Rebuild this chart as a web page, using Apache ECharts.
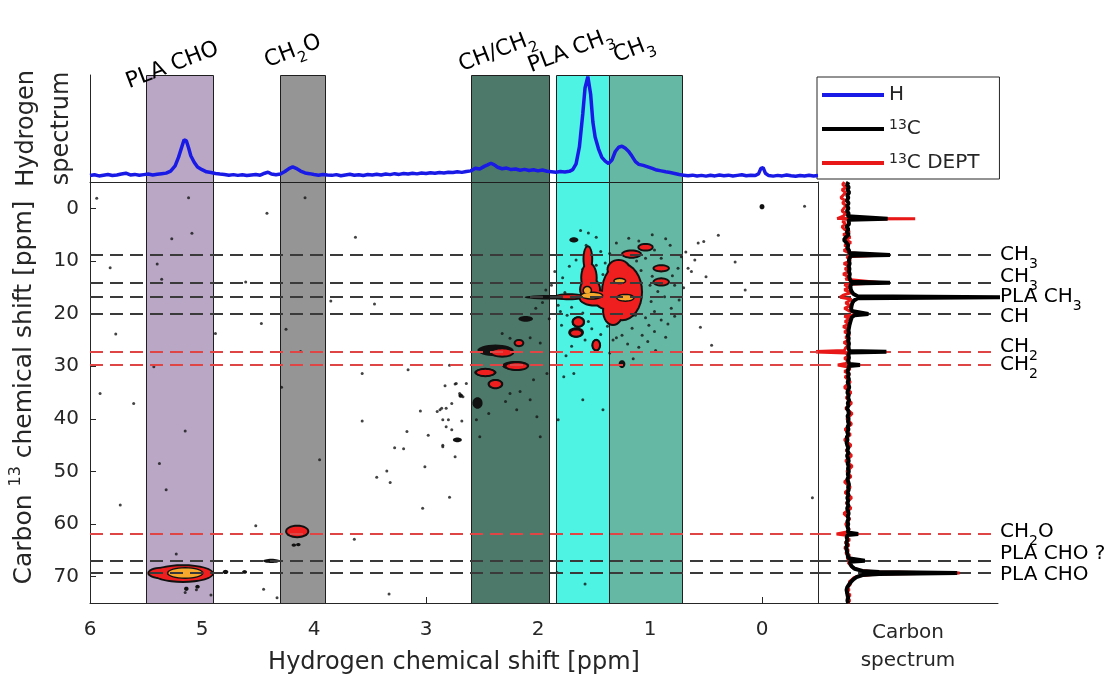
<!DOCTYPE html>
<html>
<head>
<meta charset="utf-8">
<script src="https://cdn.jsdelivr.net/npm/echarts@6/dist/echarts.min.js"></script>
<style>
html,body{margin:0;padding:0;background:#fff}
#chart{width:1109px;height:682px}
</style>
</head>
<body>
<div id="chart"></div>
<script>
// ---------- data ----------
// tick values
const hTicks = [0, 1, 2, 3, 4, 5, 6];
const cTicks = [0, 10, 20, 30, 40, 50, 60, 70];

// 1H windows used for the assignment (ppm); "_n" marks a subscript
const bandLabels = ['PLA CHO', 'CH_2O', 'CH/CH_2', 'PLA CH_3', 'CH_3'];
const bandStart = [5.50, 4.30, 2.60, 1.84, 1.37];
const bandEnd = [4.90, 3.90, 1.90, 1.37, 0.72];

// 13C reference shifts (ppm) and assignments
const refShifts = [8.87, 14.13, 16.91, 20.08, 27.25, 29.78, 61.89, 66.96, 69.30];
const refLabels = ['CH_3', 'CH_3', 'PLA CH_3', 'CH', 'CH_2', 'CH_2', 'CH_2O', 'PLA CHO ?', 'PLA CHO'];

// 1H spectrum: [ppm, intensity]
const hydrogenSpectrum = [
  [6.00,.060],[5.96,.068],[5.92,.057],[5.88,.064],[5.84,.070],[5.80,.061],[5.76,.066],[5.72,.074],[5.68,.082],[5.64,.066],
  [5.60,.071],[5.56,.063],[5.52,.069],[5.48,.074],[5.44,.066],[5.40,.072],[5.36,.078],[5.32,.083],[5.28,.102],[5.24,.150],
  [5.21,.230],[5.18,.330],[5.16,.395],[5.14,.385],[5.12,.320],[5.10,.245],[5.07,.185],[5.04,.140],[5.00,.115],[4.96,.095],
  [4.92,.088],[4.88,.080],[4.84,.074],[4.80,.071],[4.76,.064],[4.72,.069],[4.68,.062],[4.64,.067],[4.60,.060],[4.56,.066],
  [4.52,.071],[4.48,.064],[4.44,.082],[4.41,.092],[4.38,.074],[4.34,.068],[4.30,.075],[4.26,.098],[4.22,.128],[4.19,.142],
  [4.16,.128],[4.12,.102],[4.08,.085],[4.04,.078],[4.00,.070],[3.96,.064],[3.92,.071],[3.88,.066],[3.84,.062],[3.80,.069],
  [3.76,.058],[3.72,.066],[3.68,.072],[3.64,.063],[3.60,.068],[3.56,.061],[3.52,.070],[3.48,.065],[3.44,.072],[3.40,.066],
  [3.36,.074],[3.32,.069],[3.28,.078],[3.24,.071],[3.20,.080],[3.16,.074],[3.12,.082],[3.08,.076],[3.04,.084],[3.00,.079],
  [2.96,.087],[2.92,.081],[2.88,.089],[2.84,.085],[2.80,.092],[2.76,.088],[2.72,.095],[2.68,.090],[2.64,.098],[2.60,.104],
  [2.56,.128],[2.52,.122],[2.48,.146],[2.45,.160],[2.42,.175],[2.39,.160],[2.36,.138],[2.32,.124],[2.28,.130],[2.24,.116],
  [2.20,.122],[2.16,.110],[2.12,.118],[2.08,.108],[2.04,.115],[2.00,.104],[1.96,.112],[1.92,.100],[1.88,.096],[1.84,.092],
  [1.80,.098],[1.76,.094],[1.72,.100],[1.69,.115],[1.66,.170],[1.63,.330],[1.60,.640],[1.58,.880],[1.555,.985],[1.53,.820],
  [1.51,.560],[1.49,.420],[1.46,.310],[1.43,.230],[1.40,.195],[1.37,.172],[1.34,.205],[1.31,.285],[1.28,.325],[1.25,.335],
  [1.22,.315],[1.19,.285],[1.16,.240],[1.13,.190],[1.10,.165],[1.06,.155],[1.02,.142],[0.98,.128],[0.94,.112],[0.90,.104],
  [0.86,.095],[0.82,.088],[0.78,.080],[0.74,.070],[0.70,.064],[0.66,.058],[0.62,.064],[0.58,.056],[0.54,.062],[0.50,.055],
  [0.46,.063],[0.42,.057],[0.38,.066],[0.34,.059],[0.30,.064],[0.26,.056],[0.22,.062],[0.18,.068],[0.14,.058],[0.10,.064],
  [0.06,.060],[0.03,.078],[0.01,.128],[-0.01,.135],[-0.03,.082],[-0.06,.060],[-0.10,.055],[-0.14,.062],[-0.18,.057],[-0.22,.065],
  [-0.26,.058],[-0.30,.054],[-0.34,.061],[-0.38,.056],[-0.42,.063],[-0.46,.057],[-0.50,.060]
];

// 13C spectrum: [ppm, intensity]
const carbonSpectrum = [
  [-5.0,0.004],[-4.5,-0.008],[-4.0,0.006],[-3.5,-0.004],[-3.0,0.010],[-2.5,-0.006],[-2.0,0.003],[-1.5,-0.010],[-1.0,0.005],[-0.5,-0.007],
  [0.0,0.004],[0.5,-0.009],[1.0,0.006],[1.5,-0.004],[1.85,0.008],[2.0,0.330],[2.15,0.006],[2.5,-0.008],[3.0,0.008],[3.5,-0.012],
  [4.0,0.003],[4.5,-0.010],[5.0,0.006],[5.5,-0.018],[6.0,-0.034],[6.5,-0.014],[7.0,0.002],[7.5,-0.006],[8.0,0.008],[8.5,0.012],
  [8.75,0.024],[8.87,0.350],[9.0,0.026],[9.5,0.012],[10.0,0.008],[10.5,0.014],[11.0,0.006],[11.5,0.012],[12.0,0.008],[12.5,0.015],
  [13.0,0.010],[13.5,0.016],[13.95,0.028],[14.13,0.350],[14.3,0.030],[14.8,0.020],[15.3,0.022],[15.8,0.030],[16.3,0.046],[16.7,0.080],
  [16.91,1.300],[17.1,0.080],[17.5,0.050],[18.0,0.036],[18.5,0.030],[19.0,0.026],[19.5,0.030],[19.85,0.046],[20.08,0.170],[20.3,0.056],
  [20.7,0.032],[21.2,0.024],[21.7,0.018],[22.2,0.012],[22.7,0.008],[23.2,0.004],[23.7,0.008],[24.2,-0.002],[24.7,0.006],[25.2,0.002],
  [25.7,0.008],[26.2,0.004],[26.7,0.006],[27.1,0.012],[27.25,0.320],[27.4,0.010],[27.9,0.004],[28.4,0.008],[28.9,0.002],[29.6,0.010],
  [29.78,0.100],[29.95,0.008],[30.5,0.004],[31.0,-0.004],[31.5,0.006],[32.0,0.000],[32.5,0.008],[33.0,-0.003],[33.5,0.005],[34.0,0.010],
  [34.5,0.002],[35.0,-0.005],[35.5,0.006],[36.0,0.001],[36.5,0.009],[37.0,-0.002],[37.5,0.004],[38.0,-0.008],[38.5,0.003],[39.0,0.007],
  [39.5,-0.004],[40.0,0.005],[40.5,0.000],[41.0,0.008],[41.5,-0.003],[42.0,0.004],[42.5,-0.006],[43.0,0.002],[43.5,-0.010],[44.0,-0.004],
  [44.5,-0.012],[45.0,-0.006],[45.5,0.002],[46.0,-0.005],[46.5,0.004],[47.0,-0.008],[47.5,0.000],[48.0,0.006],[48.5,-0.003],[49.0,0.005],
  [49.5,0.000],[50.0,0.007],[50.5,-0.002],[51.0,0.004],[51.5,-0.005],[52.0,0.002],[52.5,0.008],[53.0,0.001],[53.5,0.006],[54.0,-0.003],
  [54.5,0.004],[55.0,-0.006],[55.5,0.002],[56.0,-0.004],[56.5,0.003],[57.0,-0.007],[57.5,0.000],[58.0,0.005],[58.5,-0.002],[59.0,0.004],
  [59.5,-0.005],[60.0,0.002],[60.5,-0.004],[61.0,0.003],[61.6,-0.002],[61.89,0.085],[62.1,-0.004],[62.5,-0.010],[63.0,-0.006],[63.5,-0.012],
  [64.0,-0.008],[64.5,-0.014],[65.0,-0.010],[65.5,-0.006],[66.0,-0.002],[66.5,0.004],[66.8,0.012],[66.96,0.140],[67.15,0.016],[67.6,0.020],
  [68.0,0.030],[68.5,0.055],[68.9,0.120],[69.1,0.260],[69.30,0.910],[69.5,0.260],[69.7,0.120],[70.1,0.070],[70.5,0.045],[71.0,0.024],
  [71.5,0.008],[72.0,-0.006],[72.5,-0.012],[73.0,-0.008],[73.5,-0.004],[74.0,0.002],[74.5,-0.005],[75.0,0.001]
];

// 13C DEPT spectrum: [ppm, intensity]
const deptSpectrum = [
  [-5.0,-0.030],[-4.5,-0.045],[-4.0,-0.015],[-3.5,-0.050],[-3.0,-0.020],[-2.5,-0.040],[-2.0,-0.060],[-1.5,-0.025],[-1.0,-0.045],[-0.5,-0.015],
  [0.0,-0.035],[0.5,-0.050],[1.0,-0.020],[1.5,-0.040],[1.85,-0.030],[1.95,-0.090],[2.0,0.560],[2.1,-0.010],[2.5,-0.045],[3.0,-0.020],
  [3.5,-0.050],[4.0,-0.030],[4.5,0.015],[5.0,-0.040],[5.5,0.020],[6.0,-0.020],[6.5,0.025],[7.0,-0.030],[7.5,0.010],[8.0,-0.035],
  [8.5,0.015],[8.87,0.300],[9.2,-0.010],[10.0,0.020],[10.5,-0.035],[11.0,0.015],[11.5,-0.025],[12.0,0.010],[12.5,-0.040],[13.0,0.005],
  [13.5,-0.020],[14.13,0.280],[14.5,-0.030],[15.0,0.010],[15.5,-0.030],[16.0,0.030],[16.5,-0.040],[16.91,-0.065],[17.3,0.030],[18.0,-0.020],
  [18.5,0.020],[19.0,-0.030],[19.5,0.010],[20.08,0.120],[20.5,-0.030],[21.0,0.015],[21.5,-0.025],[22.0,0.010],[22.5,-0.040],[23.0,0.005],
  [23.5,-0.030],[24.0,0.015],[24.5,-0.020],[25.0,0.010],[25.5,-0.035],[26.0,0.005],[26.5,-0.020],[27.0,-0.030],[27.25,-0.320],[27.5,-0.020],
  [28.0,0.010],[28.5,-0.030],[29.0,0.005],[29.5,-0.020],[29.78,-0.085],[30.1,-0.010],[30.5,0.020],[31.0,-0.030],[31.5,0.015],[32.0,-0.025],
  [33.0,0.020],[34.0,-0.030],[35.0,0.025],[36.0,-0.015],[37.0,0.030],[38.0,-0.020],[39.0,0.035],[40.0,-0.010],[41.0,0.030],[42.0,-0.025],
  [43.0,0.020],[44.0,-0.030],[45.0,0.025],[46.0,-0.015],[47.0,0.030],[48.0,-0.020],[49.0,0.035],[50.0,-0.010],[51.0,0.025],[52.0,-0.030],
  [53.0,0.020],[54.0,-0.025],[55.0,0.030],[56.0,-0.015],[57.0,0.025],[58.0,-0.035],[59.0,0.015],[60.0,-0.020],[61.0,0.010],[61.5,-0.010],
  [61.89,-0.095],[62.2,0.000],[62.5,-0.020],[63.0,0.015],[63.5,-0.025],[64.0,0.010],[64.5,-0.030],[65.0,0.005],[65.5,-0.020],[66.0,0.015],
  [66.5,-0.010],[66.96,0.060],[67.3,0.000],[67.8,0.020],[68.3,0.040],[68.8,0.100],[69.1,0.240],[69.30,0.930],[69.5,0.240],[69.8,0.100],
  [70.2,0.050],[70.6,0.030],[71.0,0.010],[71.5,0.020],[72.0,-0.010],[72.5,0.010],[73.0,-0.015],[73.5,0.020],[74.0,-0.010],[74.5,0.015],[75.0,0.000]
];

// 2D cross peaks: [1H ppm, 13C ppm, 1H half-width, 13C half-width]
const crossPeaks = [
  [1.555, 9.6, 0.030, 2.2], [1.545, 13.2, 0.060, 2.6], [1.535, 15.4, 0.080, 1.9], [1.49, 17.0, 0.130, 1.3],
  [1.72, 16.8, 0.120, 0.30], [1.38, 17.4, 0.100, 1.6],
  [1.25, 15.9, 0.170, 5.2], [1.33, 19.5, 0.080, 2.5], [1.28, 11.6, 0.090, 1.6],
  [1.165, 8.7, 0.075, 0.5], [1.04, 7.4, 0.055, 0.45], [0.90, 11.4, 0.060, 0.4], [0.90, 14.0, 0.060, 0.5],
  [1.64, 21.6, 0.040, 0.7], [1.66, 23.7, 0.045, 0.5], [1.48, 26.0, 0.025, 0.8],
  [2.32, 27.4, 0.090, 0.6], [2.19, 30.0, 0.090, 0.55], [2.47, 31.2, 0.075, 0.5], [2.38, 33.4, 0.050, 0.6], [2.17, 25.6, 0.030, 0.4],
  [4.15, 61.4, 0.090, 0.9],
  [5.17, 69.4, 0.260, 1.4], [5.36, 69.3, 0.110, 0.8]
];
// highest contour level
const crossPeakCores = [
  [1.52, 16.6, 0.090, 0.5], [1.56, 15.6, 0.030, 0.6], [1.27, 13.8, 0.045, 0.35], [1.22, 17.0, 0.070, 0.5],
  [5.15, 69.3, 0.150, 0.85]
];
// lowest contour level only
const weakPeaks = [
  [0.0, -0.3, 0.022, 0.5], [1.84, 16.9, 0.280, 0.45], [2.11, 21.0, 0.065, 0.55], [1.25, 29.6, 0.030, 0.75],
  [2.54, 37.0, 0.045, 1.1], [2.72, 44.0, 0.040, 0.45], [2.69, 35.6, 0.020, 0.4], [4.38, 67.0, 0.075, 0.4],
  [4.79, 69.1, 0.025, 0.4], [4.62, 69.1, 0.022, 0.35], [5.14, 72.3, 0.020, 0.4], [5.04, 71.9, 0.020, 0.35],
  [4.14, 63.9, 0.020, 0.3], [4.18, 64.0, 0.020, 0.3], [1.68, 6.0, 0.040, 0.5],
  [2.38, 27.0, 0.160, 1.1], [2.20, 29.9, 0.120, 0.9], [2.47, 31.2, 0.100, 0.8], [2.38, 33.4, 0.070, 0.9],
  [1.66, 23.6, 0.070, 1.0], [1.48, 26.0, 0.040, 1.2], [1.64, 21.6, 0.060, 1.1]
];
// isolated noise pixels above the lowest level: [1H ppm, 13C ppm]
const noisePoints = [
  [5.94,-1.9],[5.12,-2.0],[4.08,-2.0],[4.42,0.95],[5.09,4.75],[5.27,5.8],[3.63,5.5],[5.82,11.3],[5.40,10.6],[5.36,13.5],
  [4.61,14.0],[3.85,17.6],[3.46,18.2],[4.47,21.9],[5.77,23.9],[4.25,23.0],[4.12,27.2],[5.43,30.1],[2.79,29.8],[3.16,30.7],
  [3.57,31.4],[5.61,37.1],[4.29,34.0],[2.83,33.7],[2.74,33.4],[2.77,37.1],[2.86,38.0],[2.90,38.6],[2.85,40.2],[2.68,40.4],
  [2.82,41.5],[2.77,42.1],[2.85,45.3],[3.05,38.5],[2.98,43.1],[3.20,45.7],[3.01,49.1],[3.44,51.1],[3.32,52.1],[3.35,49.9],
  [2.79,54.9],[3.03,57.0],[5.15,42.3],[5.38,48.5],[5.32,53.5],[5.73,56.4],[3.64,62.9],[4.52,60.3],[5.23,65.7],[3.95,47.8],
  [3.57,40.4],[3.17,42.4],[4.88,23.8],[5.91,35.2],[3.28,45.5],
  [1.70,6.0],[1.55,4.7],[1.57,7.0],[1.85,12.0],[1.78,13.2],[1.74,20.3],[1.79,22.2],[1.04,9.5],[0.96,7.9],[0.90,9.5],
  [0.93,15.8],[0.87,16.8],[0.99,17.7],[0.96,19.6],[1.01,22.2],[0.96,23.4],[1.07,24.1],[1.16,22.8],[1.25,24.1],[1.33,25.0],
  [0.81,19.0],[0.78,14.6],[0.75,11.4],[0.82,7.0],[1.19,5.7],[0.57,6.6],[0.52,6.3],[0.66,11.4],[0.63,12.0],[0.39,5.1],
  [1.04,20.8],[1.13,20.3],[0.90,21.2],[1.67,24.1],[1.82,18.4],[1.55,21.5],
  [1.62,4.2],[1.48,5.5],[1.44,8.2],[1.40,10.4],[1.66,9.8],[1.72,11.0],[1.88,14.6],[1.93,15.5],[1.80,19.6],[1.70,18.8],
  [1.60,19.9],[1.52,22.9],[1.44,24.0],[1.38,22.4],[1.30,24.6],[1.20,25.8],[1.10,26.4],[1.02,25.3],[0.86,24.5],[0.84,22.0],
  [0.78,20.5],[0.74,17.4],[0.70,15.1],[0.72,9.2],[0.86,5.8],[0.98,5.0],[1.10,6.2],[1.30,6.6],[1.36,8.6],[1.42,12.6],
  [0.80,12.8],[0.68,8.3],[0.60,9.8],[0.50,13.0],[1.12,10.0],[1.08,11.8],[0.98,12.9],[1.00,14.6],[1.60,11.6],[1.48,10.8],
  [1.76,16.0],[1.96,17.9],[2.02,19.0],[1.90,21.0],[1.58,25.0],[1.70,26.2],[1.36,27.5],[1.15,28.6],[0.95,27.0],[1.75,28.0],
  [2.32,23.8],[2.25,24.7],[2.07,24.6],[1.98,25.6],[1.92,31.4],[2.04,32.6],[2.16,34.8],[2.25,35.2],[2.29,36.7],[2.07,36.4],
  [2.19,38.3],[2.01,39.6],[2.44,39.0],[2.55,40.2],[2.52,43.4],[1.98,43.4],[2.67,35.8],[2.70,35.2],[2.64,33.3],[2.73,33.3],
  [2.80,40.2],[2.82,38.0],[2.875,38.3],[2.85,45.0],[2.74,47.2],[1.82,40.2],[1.77,32.0],[1.68,31.4],[1.60,36.4],[1.42,38.3],
  [0.24,10.2],[0.15,15.5],[0.55,22.6],[0.45,26.0],[-0.38,-0.4],[-0.45,55.0],[1.83,69.2],[5.15,73.0],[5.05,72.5],[4.92,73.5],
  [4.45,72.4],[4.33,74.0],[3.33,73.3],[1.58,71.4]
];

// ---------- styles ----------
const FONT = '"DejaVu Sans", "Liberation Sans", sans-serif';
const INK = '#262626';
const bandColors = ['#b9a7c5', '#959595', '#4d796b', '#4ef3e3', '#65b8a3'];
const bandLabelOffsets = [[-19, 8], [-15, -13], [-11, -9], [-27, -8], [6, -18]]; // px from band top-left
const refLabelNudge = [0, -6, 0, 3, -5, 0, -2, -7, 2];                             // px, vertical
const LABEL_ANGLE = 21 * Math.PI / 180;
const CONTOUR_LINE = '#111111';
const CONTOUR_RED = '#ef1f1f';
const CONTOUR_ORANGE = '#f5a82c';
const DASH_DARK = '#3a3a3a';
const DASH_RED = '#e04545';

// "_3" -> subscript token, rich-text form
function subText(t) {
  return ('{m|' + t.replace(/_(\d)/g, '}{s|$1}{m|') + '}').replace('{m|}', '');
}
function richSub(size, subSize, lh) {
  return {
    m: { fontFamily: FONT, fontSize: size, lineHeight: lh, verticalAlign: 'middle', color: INK },
    s: { fontFamily: FONT, fontSize: subSize, lineHeight: subSize, verticalAlign: 'bottom', color: INK }
  };
}
const refRich = richSub(20, 14, 32);
const bandRich = richSub(22, 15, 34);

function ellipsePolygon(cx, cy, rx, ry) {
  const pts = [];
  for (let k = 0; k < 32; k++) {
    const t = k / 32 * Math.PI * 2;
    pts.push([cx + rx * Math.cos(t), cy + ry * Math.sin(t)]);
  }
  return pts;
}
function contourLevel(pad, fill) {
  return function (params, api) {
    const c = api.coord([api.value(0), api.value(1)]);
    const s = api.size([api.value(2) * 2, api.value(3) * 2]);
    return {
      type: 'polygon',
      shape: { points: ellipsePolygon(c[0], c[1], s[0] / 2 + pad, s[1] / 2 + pad) },
      style: { fill: fill }
    };
  };
}
function renderBand(params, api) {
  const cs = params.coordSys;
  const a = api.coord([api.value(0), cs.y])[0];
  const b = api.coord([api.value(1), cs.y])[0];
  const x = Math.round(Math.min(a, b)) + 0.5;
  const w = Math.round(Math.abs(b - a));
  return {
    type: 'rect',
    shape: { x: x, y: cs.y + 0.5, width: w, height: cs.height },
    style: { fill: bandColors[params.dataIndex], stroke: '#1e1e1e', lineWidth: 1 }
  };
}
function renderRefLine(withLabel) {
  return function (params, api) {
    const cs = params.coordSys;
    const i = params.dataIndex;
    const y = Math.round(api.coord([0, api.value(0)])[1]);
    const label = refLabels[i];
    const isCH2 = label.indexOf('CH_2') >= 0;
    const children = [{
      type: 'line',
      shape: { x1: cs.x, y1: y, x2: cs.x + cs.width, y2: y },
      style: { stroke: isCH2 ? DASH_RED : DASH_DARK, lineWidth: 2, lineDash: [13, 7] }
    }];
    if (withLabel) {
      children.push({
        type: 'text', x: cs.x + cs.width + 2, y: y + refLabelNudge[i],
        style: { text: subText(label), align: 'left', verticalAlign: 'middle', rich: refRich }
      });
    }
    return { type: 'group', children: children };
  };
}

const bandData = bandStart.map((s, i) => [s, bandEnd[i]]);
const hiddenAxis = {
  axisLine: { show: true, onZero: false, lineStyle: { color: INK, width: 1 } },
  axisTick: { show: false }, axisLabel: { show: false }, splitLine: { show: false }
};

const chart = echarts.init(document.getElementById('chart'), null, { renderer: 'canvas' });
chart.setOption({
  animation: false,
  backgroundColor: '#ffffff',
  textStyle: { fontFamily: FONT },
  grid: [
    { left: 90, top: 75, width: 728, height: 107, outerBoundsMode: 'none' },
    { left: 90, top: 182, width: 728, height: 421, outerBoundsMode: 'none' },
    { left: 818, top: 182, width: 180, height: 421, outerBoundsMode: 'none' }
  ],
  xAxis: [
    Object.assign({ gridIndex: 0, type: 'value', min: -0.5, max: 6, inverse: true }, hiddenAxis),
    {
      gridIndex: 1, type: 'value', min: -0.5, max: 6, inverse: true,
      axisLine: { show: true, onZero: false, lineStyle: { color: INK, width: 1 } },
      axisTick: { show: true, inside: true, length: 6, customValues: hTicks, lineStyle: { color: INK } },
      axisLabel: { customValues: hTicks, fontFamily: FONT, fontSize: 20, color: INK, margin: 17 },
      splitLine: { show: false },
      name: 'Hydrogen chemical shift [ppm]', nameLocation: 'middle', nameGap: 48,
      nameTextStyle: { fontFamily: FONT, fontSize: 24, color: INK }
    },
    Object.assign({
      gridIndex: 2, type: 'value', min: -0.25, max: 1.25,
      name: 'Carbon\nspectrum', nameLocation: 'middle', nameGap: 16,
      nameTextStyle: { fontFamily: FONT, fontSize: 20, lineHeight: 28, color: INK }
    }, hiddenAxis)
  ],
  yAxis: [
    Object.assign({
      gridIndex: 0, type: 'value', min: 0, max: 1,
      name: 'Hydrogen\nspectrum', nameLocation: 'middle', nameGap: 11,
      nameTextStyle: { fontFamily: FONT, fontSize: 24, lineHeight: 35, color: INK }
    }, hiddenAxis),
    {
      gridIndex: 1, type: 'value', min: -5, max: 75, inverse: true,
      axisLine: { show: true, onZero: false, lineStyle: { color: INK, width: 1 } },
      axisTick: { show: true, inside: true, length: 6, customValues: cTicks, lineStyle: { color: INK } },
      axisLabel: { customValues: cTicks, fontFamily: FONT, fontSize: 20, color: INK, margin: 11 },
      splitLine: { show: false },
      name: '{m|Carbon }{sup|13}{m| chemical shift [ppm]}', nameLocation: 'middle', nameGap: 50,
      nameTextStyle: {
        fontFamily: FONT, fontSize: 25, color: INK,
        rich: {
          m: { fontFamily: FONT, fontSize: 25, lineHeight: 32, verticalAlign: 'middle', color: INK },
          sup: { fontFamily: FONT, fontSize: 16, lineHeight: 16, verticalAlign: 'top', color: INK }
        }
      }
    },
    Object.assign({ gridIndex: 2, type: 'value', min: -5, max: 75, inverse: true }, hiddenAxis)
  ],
  legend: {
    orient: 'vertical', left: 817, top: 77,
    data: [{ name: 'H', icon: 'rect' }, { name: '13C', icon: 'rect' }, { name: '13C DEPT', icon: 'rect' }],
    itemWidth: 62, itemHeight: 4, itemGap: 13,
    padding: [8, 20, 6, 5],
    borderColor: INK, borderWidth: 1, backgroundColor: '#ffffff',
    selectedMode: false,
    formatter: function (n) {
      return n.indexOf('13') === 0 ? '{sup|13}{m|' + n.slice(2) + '}' : '{m|' + n + '}';
    },
    textStyle: {
      fontFamily: FONT, fontSize: 20, color: INK,
      rich: {
        m: { fontFamily: FONT, fontSize: 20, lineHeight: 22, verticalAlign: 'middle', color: INK },
        sup: { fontFamily: FONT, fontSize: 14, lineHeight: 14, verticalAlign: 'top', color: INK }
      }
    }
  },
  series: [
    // top panel: windows, labels, 1H trace
    { type: 'custom', xAxisIndex: 0, yAxisIndex: 0, z: 1, silent: true, clip: true,
      data: bandData, encode: { x: [0, 1] }, renderItem: renderBand },
    { type: 'custom', xAxisIndex: 0, yAxisIndex: 0, z: 6, silent: true, clip: false,
      data: bandData, encode: { x: [0, 1] },
      renderItem: function (params, api) {
        const i = params.dataIndex;
        const a = api.coord([api.value(0), 1])[0];
        const b = api.coord([api.value(1), 1])[0];
        const off = bandLabelOffsets[i];
        return {
          type: 'text', x: Math.min(a, b) + off[0], y: params.coordSys.y + off[1], rotation: LABEL_ANGLE,
          style: { text: subText(bandLabels[i]), align: 'left', verticalAlign: 'middle', rich: bandRich }
        };
      } },
    { name: 'H', type: 'line', xAxisIndex: 0, yAxisIndex: 0, z: 4, silent: true,
      data: hydrogenSpectrum, showSymbol: false, symbol: 'none',
      lineStyle: { color: '#1a1ae6', width: 3.5 }, itemStyle: { color: '#1a1ae6' } },

    // 2D map
    { type: 'custom', xAxisIndex: 1, yAxisIndex: 1, z: 1, silent: true, clip: true,
      data: bandData, encode: { x: [0, 1] }, renderItem: renderBand },
    { type: 'custom', xAxisIndex: 1, yAxisIndex: 1, z: 2, silent: true, clip: true,
      data: weakPeaks, encode: { x: 0, y: 1 }, renderItem: contourLevel(0, CONTOUR_LINE) },
    { type: 'custom', xAxisIndex: 1, yAxisIndex: 1, z: 2, silent: true, clip: true,
      data: crossPeaks, encode: { x: 0, y: 1 }, renderItem: contourLevel(2, CONTOUR_LINE) },
    { type: 'custom', xAxisIndex: 1, yAxisIndex: 1, z: 3, silent: true, clip: true,
      data: crossPeaks, encode: { x: 0, y: 1 }, renderItem: contourLevel(0, CONTOUR_RED) },
    { type: 'custom', xAxisIndex: 1, yAxisIndex: 1, z: 4, silent: true, clip: true,
      data: crossPeakCores, encode: { x: 0, y: 1 }, renderItem: contourLevel(1.5, CONTOUR_LINE) },
    { type: 'custom', xAxisIndex: 1, yAxisIndex: 1, z: 5, silent: true, clip: true,
      data: crossPeakCores, encode: { x: 0, y: 1 }, renderItem: contourLevel(0, CONTOUR_ORANGE) },
    { type: 'scatter', xAxisIndex: 1, yAxisIndex: 1, z: 2, silent: true,
      data: noisePoints, symbolSize: 3, itemStyle: { color: '#141414' } },
    { type: 'custom', xAxisIndex: 1, yAxisIndex: 1, z: 7, silent: true, clip: false,
      data: refShifts.map(v => [v]), encode: { y: 0 }, renderItem: renderRefLine(false) },

    // carbon panel
    { type: 'custom', xAxisIndex: 2, yAxisIndex: 2, z: 1, silent: true, clip: false,
      data: refShifts.map(v => [v]), encode: { y: 0 }, renderItem: renderRefLine(true) },
    { name: '13C DEPT', type: 'line', xAxisIndex: 2, yAxisIndex: 2, z: 2, silent: true,
      data: deptSpectrum, encode: { x: 1, y: 0 }, showSymbol: false, symbol: 'none',
      lineStyle: { color: '#e81818', width: 3 }, itemStyle: { color: '#e81818' } },
    { name: '13C', type: 'line', xAxisIndex: 2, yAxisIndex: 2, z: 3, silent: true,
      data: carbonSpectrum, encode: { x: 1, y: 0 }, showSymbol: false, symbol: 'none',
      lineStyle: { color: '#000000', width: 4 }, itemStyle: { color: '#000000' } }
  ]
});
</script>
</body>
</html>
